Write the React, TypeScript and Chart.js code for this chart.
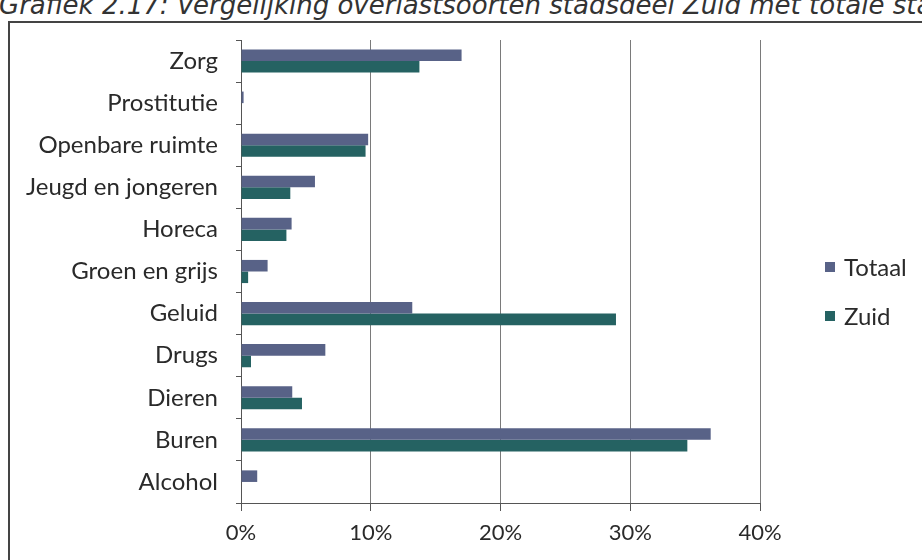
import React, { useEffect, useRef } from "react";
import { Chart, registerables } from "chart.js";

Chart.register(...registerables);

const TITLE = "Grafiek 2.17: Vergelijking overlastsoorten stadsdeel Zuid met totale stad";
const categories = [
  "Zorg",
  "Prostitutie",
  "Openbare ruimte",
  "Jeugd en jongeren",
  "Horeca",
  "Groen en grijs",
  "Geluid",
  "Drugs",
  "Dieren",
  "Buren",
  "Alcohol",
];
const seriesNames = ["Totaal", "Zuid"];
const totaal = [17.0, 0.2, 9.8, 5.7, 3.9, 2.05, 13.2, 6.5, 3.95, 36.2, 1.25];
const zuid = [13.75, 0, 9.6, 3.8, 3.5, 0.55, 28.9, 0.77, 4.7, 34.4, 0];
const xTicks = [0, 10, 20, 30, 40];
const colors = ["#586287", "#256262"];

const FONT = "Lato, 'Open Sans', sans-serif";
const TEXT = "#2a2a2a";

const legendPlugin = {
  id: "sideLegend",
  afterDraw(chart: any) {
    const ctx = chart.ctx;
    ctx.save();
    ctx.font = `24px ${FONT}`;
    ctx.textBaseline = "middle";
    ctx.textAlign = "left";
    chart.data.datasets.forEach((ds: any, i: number) => {
      const y = 267 + i * 49;
      ctx.fillStyle = ds.backgroundColor;
      ctx.fillRect(825, y - 5, 10, 10);
      ctx.fillStyle = TEXT;
      ctx.fillText(ds.label, 844, y + 1);
    });
    ctx.restore();
  },
};

export default function App() {
  const ref = useRef<HTMLCanvasElement | null>(null);

  useEffect(() => {
    if (!ref.current) return;
    const chart = new Chart(ref.current, {
      type: "bar",
      data: {
        labels: categories,
        datasets: [
          {
            label: seriesNames[0],
            data: totaal,
            backgroundColor: colors[0],
            categoryPercentage: 0.55,
            barPercentage: 1,
          },
          {
            label: seriesNames[1],
            data: zuid,
            backgroundColor: colors[1],
            categoryPercentage: 0.55,
            barPercentage: 1,
          },
        ],
      },
      options: {
        indexAxis: "y",
        animation: false,
        responsive: false,
        maintainAspectRatio: false,
        layout: { padding: { left: 0, right: 162, top: 40, bottom: 0 } },
        plugins: {
          legend: { display: false },
          tooltip: { enabled: false },
          title: { display: false },
        },
        scales: {
          x: {
            min: xTicks[0],
            max: xTicks[xTicks.length - 1],
            afterBuildTicks: (scale: any) => {
              scale.ticks = xTicks.map((v) => ({ value: v }));
            },
            afterFit: (scale: any) => {
              scale.height = 57;
            },
            ticks: {
              callback: (v: any) => `${v}%`,
              color: TEXT,
              font: { family: FONT, size: 22 },
              padding: 9,
              maxRotation: 0,
            },
            grid: {
              color: "#7a7a7a",
              lineWidth: 1,
              drawTicks: true,
              tickLength: 8,
              tickColor: "#555",
            },
            border: { display: true, color: "#555", width: 1 },
          },
          y: {
            afterFit: (scale: any) => {
              scale.width = 241;
            },
            ticks: {
              color: TEXT,
              font: { family: FONT, size: 24 },
              padding: 18,
              autoSkip: false,
            },
            grid: {
              offset: true,
              drawOnChartArea: false,
              drawTicks: true,
              tickLength: 5,
              color: "#555",
            },
            border: { display: true, color: "#555", width: 1 },
          },
        },
      },
      plugins: [legendPlugin],
    } as any);
    return () => chart.destroy();
  }, []);

  return (
    <div
      style={{
        position: "fixed",
        left: 0,
        top: 0,
        width: 922,
        height: 560,
        overflow: "hidden",
        background: "#ffffff",
      }}
    >
      <div
        style={{
          position: "absolute",
          left: -1,
          top: -10,
          whiteSpace: "nowrap",
          fontFamily: "'DejaVu Sans', sans-serif",
          fontStyle: "italic",
          fontSize: 26,
          color: "#333",
        }}
      >
        {TITLE}
      </div>
      <div
        style={{
          position: "absolute",
          left: 8,
          top: 21,
          width: 1000,
          height: 600,
          border: "2px solid #444",
          boxSizing: "border-box",
        }}
      />
      <canvas
        ref={ref}
        width={922}
        height={560}
        style={{ position: "absolute", left: 0, top: 0, width: 922, height: 560 }}
      />
    </div>
  );
}
